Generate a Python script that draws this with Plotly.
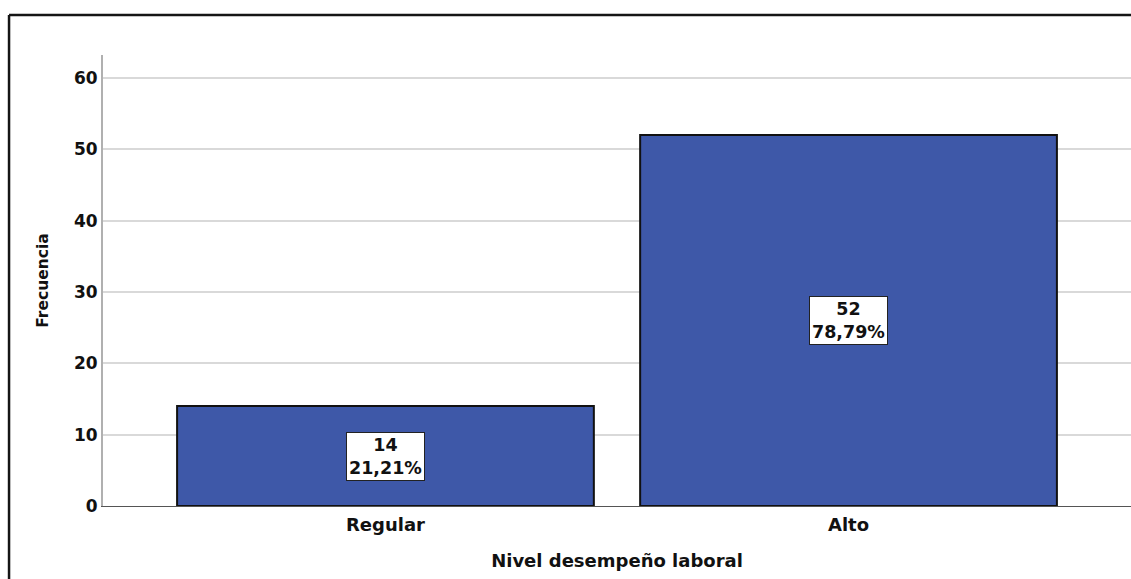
import plotly.graph_objects as go

# Frequency table for the work-performance level variable
categorias = ["Regular", "Alto"]
frecuencias = [14, 52]
porcentajes = [21.21, 78.79]
y_ticks = [0, 10, 20, 30, 40, 50, 60]

FONT = "DejaVu Sans"
BAR_COLOR = "#3e58a8"

fig = go.Figure()

fig.add_trace(go.Bar(
    x=categorias,
    y=frecuencias,
    width=0.9,
    marker=dict(color=BAR_COLOR, line=dict(color="#111111", width=2)),
    hoverinfo="skip",
))

# Boxed labels with count and percentage at mid-height of each bar
for cat, n, p in zip(categorias, frecuencias, porcentajes):
    pct = f"{p:.2f}".replace(".", ",") + "%"
    fig.add_annotation(
        x=cat, y=n / 2, xref="x", yref="y",
        text=f"<b>{n}</b><br><b>{pct}</b>",
        showarrow=False,
        font=dict(family=FONT, size=17.5, color="#111111"),
        bgcolor="white",
        bordercolor="#222222",
        borderwidth=1,
        borderpad=2,
        align="center",
    )

# Outer frame (left and top edges)
frame = dict(color="#151515", width=2.5)
fig.add_shape(type="line", xref="paper", yref="paper",
              x0=-0.0914, x1=-0.0914, y0=1.0887, y1=-0.25, line=frame)
fig.add_shape(type="line", xref="paper", yref="paper",
              x0=-0.0914, x1=1.02, y0=1.0887, y1=1.0887, line=frame)

fig.update_layout(
    width=1131,
    height=579,
    margin=dict(l=103, r=0, t=55, b=73),
    paper_bgcolor="white",
    plot_bgcolor="white",
    showlegend=False,
    font=dict(family=FONT, color="#111111"),
)

fig.update_xaxes(
    range=[-0.61, 1.61],
    showline=True, linecolor="#555555", linewidth=1,
    showgrid=False, zeroline=False,
    ticks="outside", ticklen=2, tickcolor="rgba(0,0,0,0)",
    tickfont=dict(family=FONT, size=18, color="#111111", weight="bold"),
    title=dict(text="<b>Nivel desempeño laboral</b>",
               font=dict(family=FONT, size=18, color="#111111"),
               standoff=20),
)

fig.update_yaxes(
    range=[0, 63.2],
    tickvals=y_ticks,
    showline=True, linecolor="#b0b0b0", linewidth=2,
    showgrid=True, gridcolor="#d9d9d9", gridwidth=1.5,
    zeroline=False,
    ticks="", ticklen=0,
    tickfont=dict(family=FONT, size=17, color="#111111", weight="bold"),
    title=dict(text="<b>Frecuencia</b>",
               font=dict(family=FONT, size=15.5, color="#111111"),
               standoff=22),
)

fig.write_html("out.html")
